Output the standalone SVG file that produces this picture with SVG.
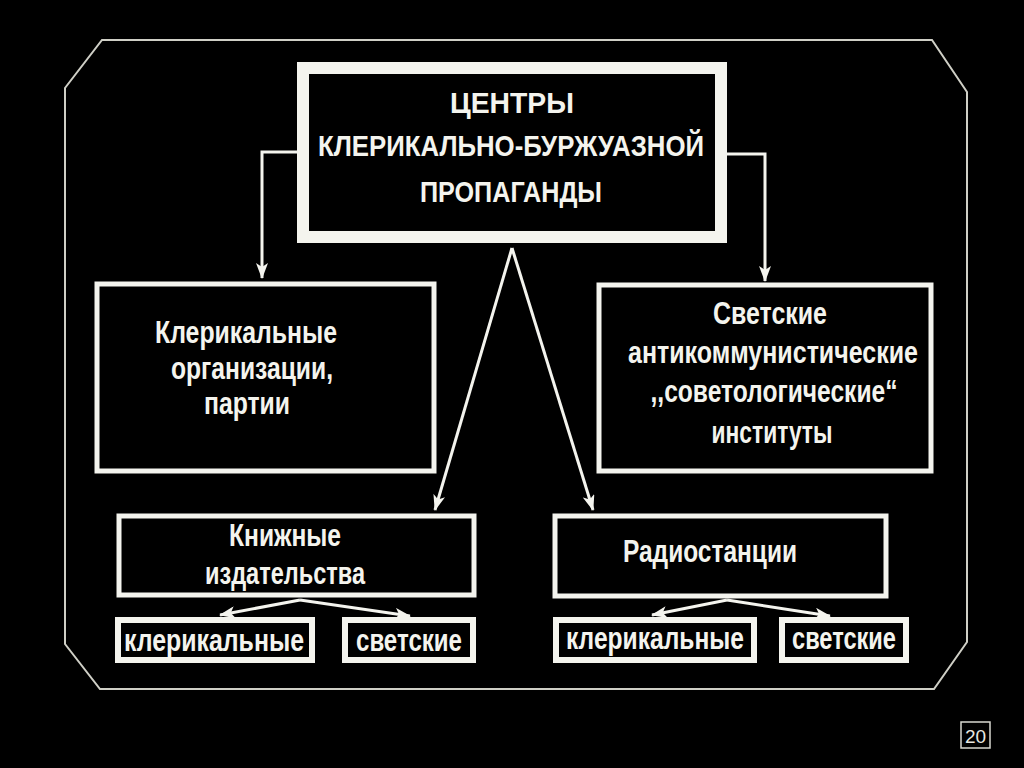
<svg xmlns="http://www.w3.org/2000/svg" width="1024" height="768" viewBox="0 0 1024 768">
<defs>
<style>
.t{font-family:"Liberation Sans Narrow","Liberation Sans",Arial,sans-serif;font-weight:bold;fill:#f4f4ee;text-anchor:middle}
.big{font-size:30px}
.mid{font-size:31px}
.sm{font-size:31px}
.box{fill:#000;stroke:#f4f4ee}
.ln{stroke:#f4f4ee;stroke-width:3;fill:none}
</style>
<marker id="ah2" viewBox="0 0 16 12" refX="15" refY="6" markerWidth="16" markerHeight="12" orient="auto" markerUnits="userSpaceOnUse">
<path d="M0,0 L16,6 L0,12 L4,6 Z" fill="#f4f4ee"/>
</marker>
</defs>
<rect width="1024" height="768" fill="#000"/>
<path d="M102,40 L932,40 L967,92 L967,642 L934,689 L100,689 L65,644 L65,88 Z" fill="none" stroke="#cfcfc6" stroke-width="2"/>
<g id="connectors">
<path class="ln" d="M297,152 L262,152 L262,278" marker-end="url(#ah2)"/>
<path class="ln" d="M727,154 L765,154 L765,281" marker-end="url(#ah2)"/>
<path class="ln" d="M512,248 L435,510" marker-end="url(#ah2)"/>
<path class="ln" d="M512,248 L593,510" marker-end="url(#ah2)"/>
<path class="ln" d="M300,600 L220,615" marker-end="url(#ah2)"/>
<path class="ln" d="M300,600 L410,616" marker-end="url(#ah2)"/>
<path class="ln" d="M727,600 L652,615" marker-end="url(#ah2)"/>
<path class="ln" d="M727,600 L830,616" marker-end="url(#ah2)"/>
</g>
<g id="top">
<rect class="box" x="303" y="68" width="418" height="169" stroke-width="12"/>
<text class="t big" x="512" y="113" textLength="124" lengthAdjust="spacingAndGlyphs">ЦЕНТРЫ</text>
<text class="t big" x="511" y="156" textLength="386" lengthAdjust="spacingAndGlyphs">КЛЕРИКАЛЬНО-БУРЖУАЗНОЙ</text>
<text class="t big" x="511" y="202" textLength="182" lengthAdjust="spacingAndGlyphs">ПРОПАГАНДЫ</text>
</g>
<g id="clerical-orgs">
<rect class="box" x="97" y="284" width="337" height="187" stroke-width="5"/>
<text class="t mid" x="246" y="343" textLength="182" lengthAdjust="spacingAndGlyphs">Клерикальные</text>
<text class="t mid" x="252" y="379" textLength="162" lengthAdjust="spacingAndGlyphs">организации,</text>
<text class="t mid" x="247" y="414" textLength="86" lengthAdjust="spacingAndGlyphs">партии</text>
</g>
<g id="secular-institutes">
<rect class="box" x="599" y="285" width="332" height="186" stroke-width="5"/>
<text class="t mid" x="770" y="324" textLength="114" lengthAdjust="spacingAndGlyphs">Светские</text>
<text class="t mid" x="773" y="363" textLength="290" lengthAdjust="spacingAndGlyphs">антикоммунистические</text>
<text class="t mid" x="774" y="402" textLength="247" lengthAdjust="spacingAndGlyphs">,,советологические“</text>
<text class="t mid" x="772" y="443" textLength="121" lengthAdjust="spacingAndGlyphs">институты</text>
</g>
<g id="publishers">
<rect class="box" x="119" y="516" width="355" height="79" stroke-width="5"/>
<text class="t mid" x="285" y="546" textLength="112" lengthAdjust="spacingAndGlyphs">Книжные</text>
<text class="t mid" x="285" y="584" textLength="160" lengthAdjust="spacingAndGlyphs">издательства</text>
</g>
<g id="radio">
<rect class="box" x="555" y="516" width="331" height="80" stroke-width="5"/>
<text class="t mid" x="710" y="562" textLength="174" lengthAdjust="spacingAndGlyphs">Радиостанции</text>
</g>
<g id="pub-clerical">
<rect class="box" x="118" y="620" width="194" height="40" stroke-width="6"/>
<text class="t sm" x="214" y="651" textLength="180" lengthAdjust="spacingAndGlyphs">клерикальные</text>
</g>
<g id="pub-secular">
<rect class="box" x="345" y="620" width="128" height="40" stroke-width="6"/>
<text class="t sm" x="409" y="651" textLength="106" lengthAdjust="spacingAndGlyphs">светские</text>
</g>
<g id="radio-clerical">
<rect class="box" x="556" y="620" width="198" height="40" stroke-width="6"/>
<text class="t sm" x="655" y="649" textLength="178" lengthAdjust="spacingAndGlyphs">клерикальные</text>
</g>
<g id="radio-secular">
<rect class="box" x="782" y="620" width="124" height="40" stroke-width="6"/>
<text class="t sm" x="844" y="649" textLength="104" lengthAdjust="spacingAndGlyphs">светские</text>
</g>
<g id="page-number">
<rect x="961" y="722" width="29" height="26" fill="none" stroke="#d8d8d0" stroke-width="1.5"/>
<text x="975.5" y="743" font-family="Liberation Sans,Arial,sans-serif" font-size="19" fill="#e8e8e0" text-anchor="middle">20</text>
</g>
</svg>
